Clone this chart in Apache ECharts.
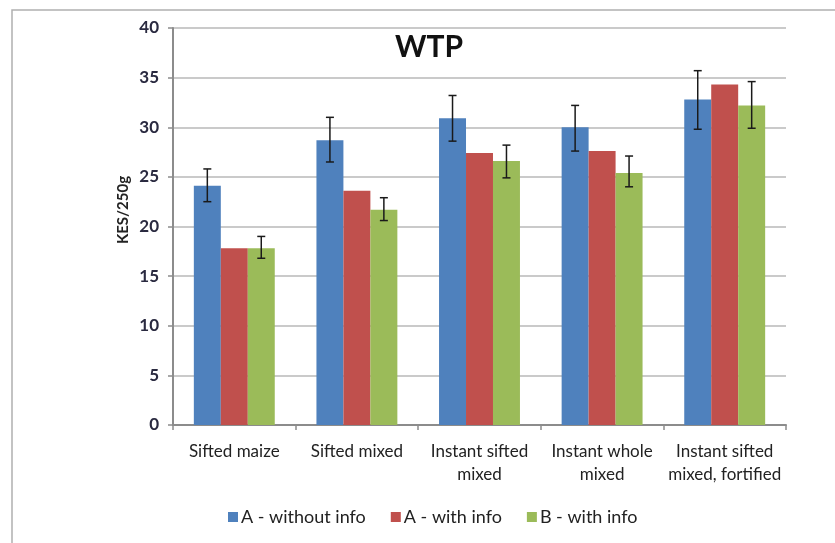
<!DOCTYPE html>
<html>
<head>
<meta charset="utf-8">
<script src="https://cdn.jsdelivr.net/npm/echarts@6/dist/echarts.min.js"></script>
<style>
html,body{margin:0;padding:0;background:#fff;}
#c{width:835px;height:543px;}
</style>
</head>
<body>
<div id="c"></div>
<script>
const categories = ['Sifted maize', 'Sifted mixed', 'Instant sifted\nmixed', 'Instant whole\nmixed', 'Instant sifted\nmixed, fortified'];
const seriesNames = ['A - without info', 'A - with info', 'B - with info'];
const aWithout = [24.1, 28.7, 30.9, 30.0, 32.8];
const aWith = [17.8, 23.6, 27.4, 27.6, 34.3];
const bWith = [17.8, 21.7, 26.6, 25.4, 32.2];
const aWithoutLow = [22.5, 26.5, 28.6, 27.6, 29.8];
const aWithoutHigh = [25.8, 31.0, 33.2, 32.2, 35.7];
const bWithLow = [16.8, 20.6, 24.9, 24.0, 29.9];
const bWithHigh = [19.0, 22.9, 28.2, 27.1, 34.6];
const colors = ['#4f81bd', '#c0504d', '#9bbb59'];
const yTicks = [0, 40, 5];
const yTitle = 'KES/250g';
const chartTitle = 'WTP';

const font = 'Lato, "Liberation Sans", sans-serif';
const gapRatio = 0.34;

function errorSeries(seriesIdx, low, high) {
  return {
    type: 'custom',
    silent: true,
    z: 10,
    data: categories.map((c, i) => [i, low[i], high[i]]),
    encode: { x: 0, y: [1, 2] },
    renderItem: function (params, api) {
      const band = api.size([1, 0])[0];
      const bw = band * (1 - gapRatio) / 3;
      const off = (seriesIdx - 1) * bw;
      const lo = api.coord([api.value(0), api.value(1)]);
      const hi = api.coord([api.value(0), api.value(2)]);
      const x = lo[0] + off;
      const cap = 4;
      const style = { stroke: '#1a1a1a', lineWidth: 1.5 };
      return {
        type: 'group',
        children: [
          { type: 'line', shape: { x1: x, y1: lo[1], x2: x, y2: hi[1] }, style },
          { type: 'line', shape: { x1: x - cap, y1: lo[1], x2: x + cap, y2: lo[1] }, style },
          { type: 'line', shape: { x1: x - cap, y1: hi[1], x2: x + cap, y2: hi[1] }, style }
        ]
      };
    }
  };
}

const chart = echarts.init(document.getElementById('c'));
chart.setOption({
  animation: false,
  color: colors,
  graphic: [{
    type: 'rect',
    shape: { x: 12, y: 10, width: 840, height: 560 },
    style: { fill: 'none', stroke: '#b0b0b0', lineWidth: 1.5 },
    silent: true
  }, {
    type: 'text',
    x: 123,
    y: 210,
    rotation: Math.PI / 2,
    style: {
      text: yTitle,
      fontFamily: font, fontWeight: 'bold', fontSize: 15, fill: '#222',
      align: 'center', verticalAlign: 'middle'
    },
    silent: true
  }],
  title: {
    text: chartTitle,
    left: 424,
    textAlign: 'center',
    top: 27,
    textStyle: { fontFamily: font, fontWeight: 'bold', fontSize: 30, color: '#111' }
  },
  legend: {
    bottom: 12,
    left: 223,
    itemWidth: 10,
    itemHeight: 10,
    itemGap: 25,
    icon: 'rect',
    data: seriesNames,
    textStyle: { fontFamily: font, fontSize: 18, color: '#222', padding: [0, 0, 0, -2] }
  },
  grid: { left: 173, right: 49, top: 28, bottom: 118, containLabel: false },
  xAxis: {
    type: 'category',
    data: categories,
    axisLine: { lineStyle: { color: '#8c8c8c', width: 2 } },
    axisTick: { show: true, length: 5, lineStyle: { color: '#8c8c8c', width: 1.5 } },
    axisLabel: { interval: 0, hideOverlap: false, fontFamily: font, fontSize: 17, color: '#222', lineHeight: 23, margin: 15 }
  },
  yAxis: {
    type: 'value',
    min: yTicks[0],
    max: yTicks[1],
    interval: yTicks[2],
    axisLine: { show: true, lineStyle: { color: '#8c8c8c', width: 2 } },
    axisTick: { show: true, length: 5, lineStyle: { color: '#8c8c8c', width: 1.5 } },
    axisLabel: { fontFamily: font, fontWeight: 'bold', fontSize: 17, color: '#2a2a40', margin: 14 },
    splitLine: { lineStyle: { color: '#b8b8b8', width: 1.5 } }
  },
  series: [
    { name: seriesNames[0], type: 'bar', data: aWithout, barGap: '0%', barCategoryGap: (gapRatio * 100) + '%' },
    { name: seriesNames[1], type: 'bar', data: aWith, barGap: '0%', barCategoryGap: (gapRatio * 100) + '%' },
    { name: seriesNames[2], type: 'bar', data: bWith, barGap: '0%', barCategoryGap: (gapRatio * 100) + '%' },
    errorSeries(0, aWithoutLow, aWithoutHigh),
    errorSeries(2, bWithLow, bWithHigh)
  ]
});
</script>
</body>
</html>
